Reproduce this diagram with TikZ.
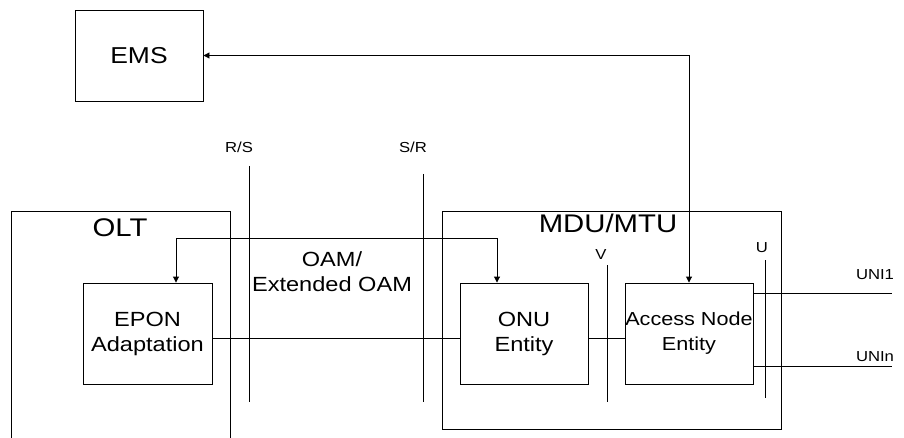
\documentclass[tikz,border=0pt]{standalone}
\usepackage{fontspec}
\setmainfont{Liberation Sans}[FakeStretch=1.15]
\usepackage{tikz}
\usetikzlibrary{arrows.meta,positioning,calc}

\tikzset{
  blk/.style={draw, line width=0.9pt, inner sep=0pt, align=center,
    font=\fontsize{20.5}{25}\selectfont},
  tag/.style={inner sep=0pt, font=\fontsize{14.5}{18}\selectfont},
  ttl/.style={inner sep=0pt, font=\fontsize{25.5}{28}\selectfont},
  ln/.style={line width=0.9pt},
  biarrow/.style={ln, {Triangle[length=6pt,width=6pt]}-{Triangle[length=6pt,width=6pt]}}
}

\begin{document}
\begin{tikzpicture}[x=1pt, y=-1pt]
\useasboundingbox (0,0) rectangle (904,438);

% management system
\node[blk, minimum width=128pt, minimum height=91pt, font=\fontsize{23}{28}\selectfont] (ems) at (139,55.5) {EMS};

% reference points
\node[tag] (rs) at (239,147) {R/S};
\node[tag] (sr) at (413,147) {S/R};
\coordinate (rstop) at (249,166);  \coordinate (rsbot) at (249,402);
\coordinate (srtop) at (423,174);  \coordinate (srbot) at (423,402);
\draw[ln] (rstop) -- (rsbot);
\draw[ln] (srtop) -- (srbot);

% OLT (open at the bottom)
\draw[ln] (11,438) -- (11,211) -- (230,211) -- (230,438);
\node[ttl] (olt) at (120,228) {OLT};
\node[blk, minimum width=129pt, minimum height=101pt] (epon) at (147.5,333.5) {EPON\\Adaptation};

% MDU/MTU
\node[draw, ln, minimum width=339pt, minimum height=218pt, inner sep=0pt] (mdu) at (611.5,320) {};
\node[ttl] (mdutitle) at (608,223) {MDU/MTU};
\node[blk, minimum width=128pt, minimum height=101pt] (onu) at (524,333.5) {ONU\\Entity};
\node[blk, minimum width=128pt, minimum height=101pt, font=\fontsize{18.8}{25}\selectfont] (acc) at (689,333.5) {Access Node\\Entity};

\node[tag] (v) at (601,255) {V};
\coordinate (vtop) at (607,265);  \coordinate (vbot) at (607,402);
\draw[ln] (vtop) -- (vbot);
\node[tag] (u) at (762,248) {U};
\coordinate (utop) at (765,260);  \coordinate (ubot) at (765,398);
\draw[ln] (utop) -- (ubot);

% OAM channel
\node[blk, draw=none] (oam) at (332,272) {OAM/\\Extended OAM};
\coordinate (oaml) at (176,238);
\coordinate (oamr) at (497,238);
\draw[biarrow] (epon.north -| oaml) -- (oaml) -- (oamr) -- (onu.north -| oamr);

% links
\draw[ln] ([yshift=-4.5pt]epon.east) -- ([yshift=-4.5pt]onu.west);
\draw[ln] ([yshift=-4.5pt]onu.east) -- ([yshift=-4.5pt]acc.west);
\draw[biarrow] (ems.east) -| (acc.north);

% user interfaces
\coordinate (uni1end) at (892,293);
\coordinate (uninend) at (892,366);
\draw[ln] (acc.east |- uni1end) -- (uni1end);
\draw[ln] (acc.east |- uninend) -- (uninend);
\node[tag] (uni1) at (875,275) {UNI1};
\node[tag] (unin) at (875,357) {UNIn};
\end{tikzpicture}
\end{document}
